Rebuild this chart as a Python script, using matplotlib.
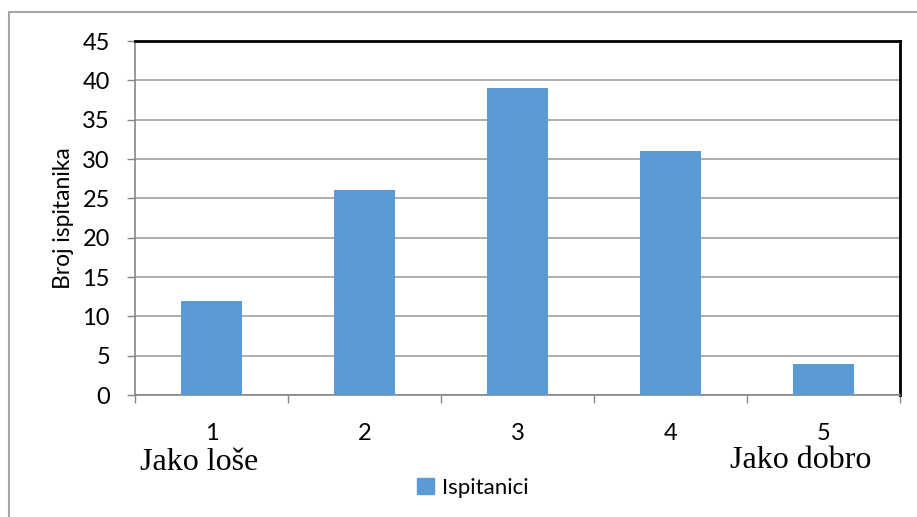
import matplotlib.pyplot as plt
from matplotlib.patches import Rectangle, Patch

categories = ['1', '2', '3', '4', '5']
values = [12, 26, 39, 31, 4]
series_name = 'Ispitanici'
y_label = 'Broj ispitanika'
left_note = 'Jako loše'
right_note = 'Jako dobro'

bar_color = '#5B9BD5'
sans = ['Lato', 'DejaVu Sans']
serif = ['Liberation Serif', 'DejaVu Serif']

fig = plt.figure(figsize=(9.17, 5.17), dpi=100)
ax = fig.add_axes([135 / 917, 1 - 395 / 517, 765 / 917, 354 / 517])

# outer chart frame (only top and left edges fall inside the picture)
fig.patches.append(Rectangle((9 / 917, -0.1), 1.2, 1 - 12 / 517 + 0.1,
                             transform=fig.transFigure, fill=False,
                             edgecolor='#A6A6A6', linewidth=1.5))

x = range(len(categories))
ax.bar(x, values, width=0.4, color=bar_color, zorder=3)

ax.set_xlim(-0.5, len(categories) - 0.5)
ax.set_ylim(0, 45)
ax.set_yticks(range(0, 46, 5))
ax.set_xticks(list(x))
ax.set_xticklabels(categories, fontfamily=sans, fontsize=17)
ax.set_xticks([i - 0.5 for i in range(len(categories) + 1)], minor=True)
ax.tick_params(axis='x', which='major', length=0, pad=20)
ax.tick_params(axis='x', which='minor', length=6, color='#868686', width=1)
ax.tick_params(axis='y', length=6, color='#868686', width=1, labelsize=17, pad=12)
for lab in ax.get_yticklabels():
    lab.set_fontfamily(sans)

ax.grid(axis='y', color='#A0A0A0', linewidth=1.2, zorder=0)
ax.spines['left'].set_color('#868686')
ax.spines['bottom'].set_color('#868686')
ax.spines['left'].set_linewidth(1.2)
ax.spines['bottom'].set_linewidth(1.2)
ax.spines['top'].set_color('black')
ax.spines['right'].set_color('black')
ax.spines['top'].set_linewidth(2)
ax.spines['right'].set_linewidth(2)

ax.set_ylabel(y_label, fontfamily=sans, fontsize=16.5, labelpad=6)

fig.text(140 / 917, 1 - 462 / 517, left_note, fontfamily=serif, fontsize=23,
         ha='left', va='center')
fig.text(871 / 917, 1 - 460 / 517, right_note, fontfamily=serif, fontsize=23,
         ha='right', va='center')

handle = Patch(facecolor=bar_color, edgecolor=bar_color)
fig.legend([handle], [series_name], loc='center', bbox_to_anchor=(473 / 917, 1 - 488 / 517),
           frameon=False, prop={'family': sans, 'size': 16},
           handlelength=0.75, handleheight=0.75, handletextpad=0.4)

fig.savefig('out.png', dpi=100)
